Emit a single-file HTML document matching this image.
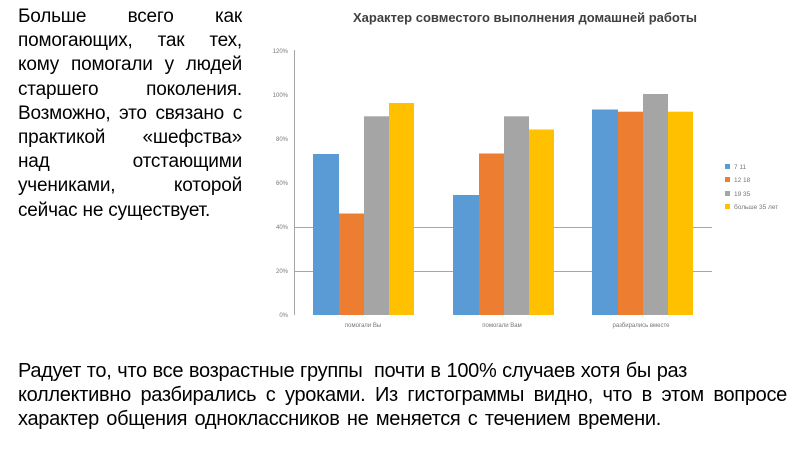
<!DOCTYPE html>
<html><head><meta charset="utf-8"><style>
body{margin:0;width:800px;height:450px;background:#fff;overflow:hidden;position:relative;font-family:"Liberation Sans",sans-serif}
#left{position:absolute;left:18px;top:5px;width:224px;font-size:19px;line-height:24.2px;color:#000;letter-spacing:-0.2px}
#left div{text-align:justify;text-align-last:justify;white-space:nowrap}
#left div.l{text-align-last:left}
#bot{position:absolute;left:18px;top:359px;font-size:20px;line-height:24px;color:#000;letter-spacing:-0.3px}
#bot div{white-space:nowrap;text-align:justify;text-align-last:justify}
</style></head><body>
<div id="left">
<div>Больше всего как</div>
<div>помогающих, так тех,</div>
<div>кому помогали у людей</div>
<div>старшего поколения.</div>
<div>Возможно, это связано с</div>
<div>практикой «шефства»</div>
<div>над отстающими</div>
<div>учениками, которой</div>
<div class="l">сейчас не существует.</div>
</div>
<div id="bot">
<div style="width:669px">Радует то, что все возрастные группы&nbsp; почти в 100% случаев хотя бы раз</div>
<div style="width:769px">коллективно разбирались с уроками. Из гистограммы видно, что в этом вопросе</div>
<div style="width:643px">характер общения одноклассников не меняется с течением времени.</div>
</div>
<svg width="800" height="450" style="position:absolute;left:0;top:0" font-family="Liberation Sans, sans-serif">
<text x="525" y="22" font-size="13" font-weight="bold" text-anchor="middle" fill="#404040">Характер совместого выполнения домашней работы</text>
<g stroke="#a6a6a6" stroke-width="1">
<line x1="294" y1="227.5" x2="712" y2="227.5"/><line x1="294" y1="271.5" x2="712" y2="271.5"/>
<line x1="294.5" y1="50" x2="294.5" y2="315"/>
</g>
<g font-size="6" fill="#777" text-anchor="end">
<text x="288" y="53">120%</text><text x="288" y="97">100%</text><text x="288" y="141">80%</text><text x="288" y="185">60%</text><text x="288" y="229">40%</text><text x="288" y="273">20%</text><text x="288" y="317">0%</text>
</g>
<g font-size="6" fill="#777" text-anchor="middle">
<text x="363" y="327">помогали Вы</text><text x="502" y="327">помогали Вам</text><text x="641" y="327">разбирались вместе</text>
</g>
<g font-size="6.5" fill="#777">
<rect x="725" y="164" width="5" height="5" fill="#5b9bd5"/><text x="734" y="169">7 11</text>
<rect x="725" y="177" width="5" height="5" fill="#ed7d31"/><text x="734" y="182">12 18</text>
<rect x="725" y="191" width="5" height="5" fill="#a5a5a5"/><text x="734" y="196">19 35</text>
<rect x="725" y="204" width="5" height="5" fill="#ffc000"/><text x="734" y="209">больше 35 лет</text>
</g>
<g>
<rect x="313" y="154.0" width="26" height="161.0" fill="#5b9bd5"/>
<rect x="339" y="213.5" width="25" height="101.5" fill="#ed7d31"/>
<rect x="364" y="116.3" width="25" height="198.7" fill="#a5a5a5"/>
<rect x="389" y="103.0" width="25" height="212.0" fill="#ffc000"/>
<rect x="453" y="195.0" width="26" height="120.0" fill="#5b9bd5"/>
<rect x="479" y="153.5" width="25" height="161.5" fill="#ed7d31"/>
<rect x="504" y="116.3" width="25" height="198.7" fill="#a5a5a5"/>
<rect x="529" y="129.5" width="25" height="185.5" fill="#ffc000"/>
<rect x="592" y="109.5" width="26" height="205.5" fill="#5b9bd5"/>
<rect x="618" y="111.7" width="25" height="203.3" fill="#ed7d31"/>
<rect x="643" y="94.0" width="25" height="221.0" fill="#a5a5a5"/>
<rect x="668" y="111.7" width="25" height="203.3" fill="#ffc000"/>
</g>
</svg>
</body></html>
